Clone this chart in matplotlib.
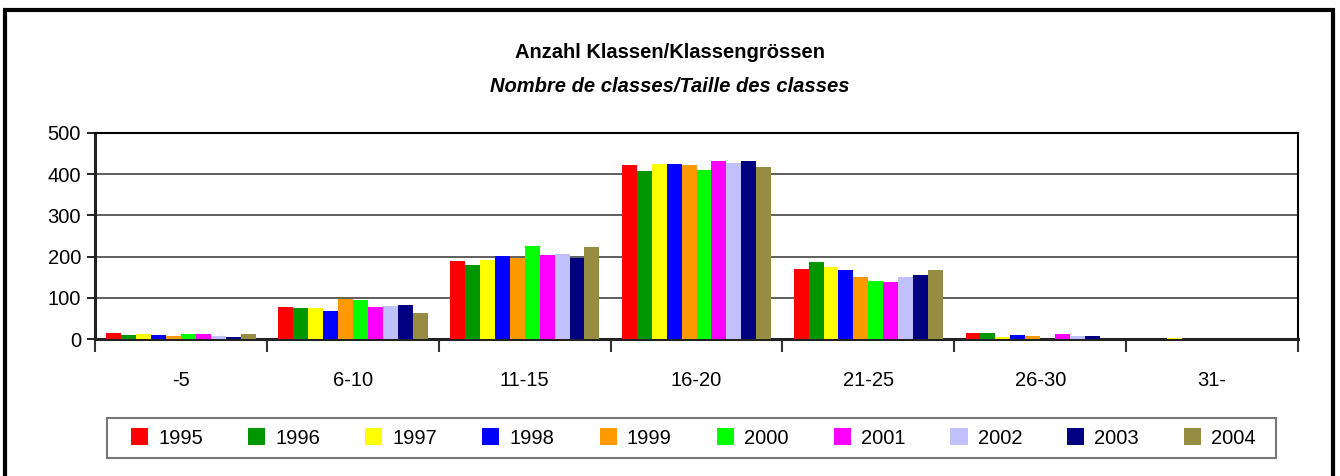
import matplotlib
matplotlib.use("Agg")
import matplotlib.pyplot as plt
import numpy as np
from matplotlib.patches import Patch, Rectangle

plt.rcParams['font.family'] = ['Liberation Sans', 'DejaVu Sans']

# Daten
categories = ["-5", "6-10", "11-15", "16-20", "21-25", "26-30", "31-"]
years = ["1995", "1996", "1997", "1998", "1999", "2000", "2001", "2002", "2003", "2004"]
v1995 = [15, 78, 189, 422, 170, 15, 0]
v1996 = [10, 75, 180, 408, 187, 15, 0]
v1997 = [12, 75, 192, 425, 175, 5, 2]
v1998 = [10, 68, 201, 425, 167, 10, 0]
v1999 = [7, 98, 197, 422, 150, 7, 0]
v2000 = [12, 95, 226, 410, 141, 1, 0]
v2001 = [12, 78, 204, 432, 138, 12, 0]
v2002 = [7, 80, 206, 427, 150, 7, 0]
v2003 = [5, 83, 197, 432, 155, 7, 0]
v2004 = [12, 63, 223, 417, 167, 1, 0]
series = [v1995, v1996, v1997, v1998, v1999, v2000, v2001, v2002, v2003, v2004]
colors = ["#FF0000", "#009600", "#FFFF00", "#0000FF", "#FF9900",
          "#00FF00", "#FF00FF", "#C0C0FF", "#000080", "#968D42"]

fig = plt.figure(figsize=(13.4, 4.76), dpi=100)
ax = fig.add_axes([0.0709, 0.2878, 0.8978, 0.4328])

x = np.arange(len(categories))
n = len(series)
bw = 0.087
for i, vals in enumerate(series):
    ax.bar(x + (i - (n - 1) / 2) * bw, vals, width=bw, color=colors[i],
           edgecolor="none", zorder=3, label=years[i])

ax.set_xlim(-0.5, len(categories) - 0.5)
ax.set_ylim(0, 500)
ax.set_yticks([0, 100, 200, 300, 400, 500])
ax.yaxis.grid(True, color="#333333", linewidth=1.1, zorder=0)
ax.set_xticks(x)
ax.set_xticklabels(categories)
ax.set_xticks(np.arange(-0.5, len(categories), 1.0), minor=True)
ax.tick_params(axis="x", which="major", length=0, pad=23, labelsize=14.5)
ax.tick_params(axis="x", which="minor", length=9, width=1.5, color="#333333", direction="out")
ax.tick_params(axis="y", length=6, width=1.2, labelsize=14.5, pad=4)

for s in ["left", "bottom"]:
    ax.spines[s].set_linewidth(2.2)
    ax.spines[s].set_color("#222222")
for s in ["top", "right"]:
    ax.spines[s].set_linewidth(1.5)
    ax.spines[s].set_color("black")

fig.text(0.5, 1 - 53 / 476, "Anzahl Klassen/Klassengrössen", ha="center", va="center",
         fontsize=14.5, fontweight="bold")
fig.text(0.5, 1 - 86 / 476, "Nombre de classes/Taille des classes", ha="center", va="center",
         fontsize=14.5, fontweight="bold", style="italic")

# Legende mit eigenem Rahmen
handles = [Patch(facecolor=c, edgecolor="none") for c in colors]
fig.legend(handles, years, loc="center left", ncol=10, mode="expand",
           bbox_to_anchor=(131 / 1340, 1 - 448 / 476, 1125 / 1340, 20 / 476),
           fontsize=14.5, frameon=False, handlelength=0.85,
           handleheight=0.85, handletextpad=0.5, borderaxespad=0, borderpad=0)
fig.patches.append(Rectangle((107 / 1340, 1 - 458 / 476), 1169 / 1340, 40 / 476,
                             transform=fig.transFigure, fill=False,
                             edgecolor="#777777", linewidth=1.5))

fig.patches.append(Rectangle((5 / 1340, -0.05), 1328 / 1340, 1.05 - 10 / 476,
                             transform=fig.transFigure, fill=False,
                             edgecolor="black", linewidth=3))

fig.savefig("out.png", dpi=100)
